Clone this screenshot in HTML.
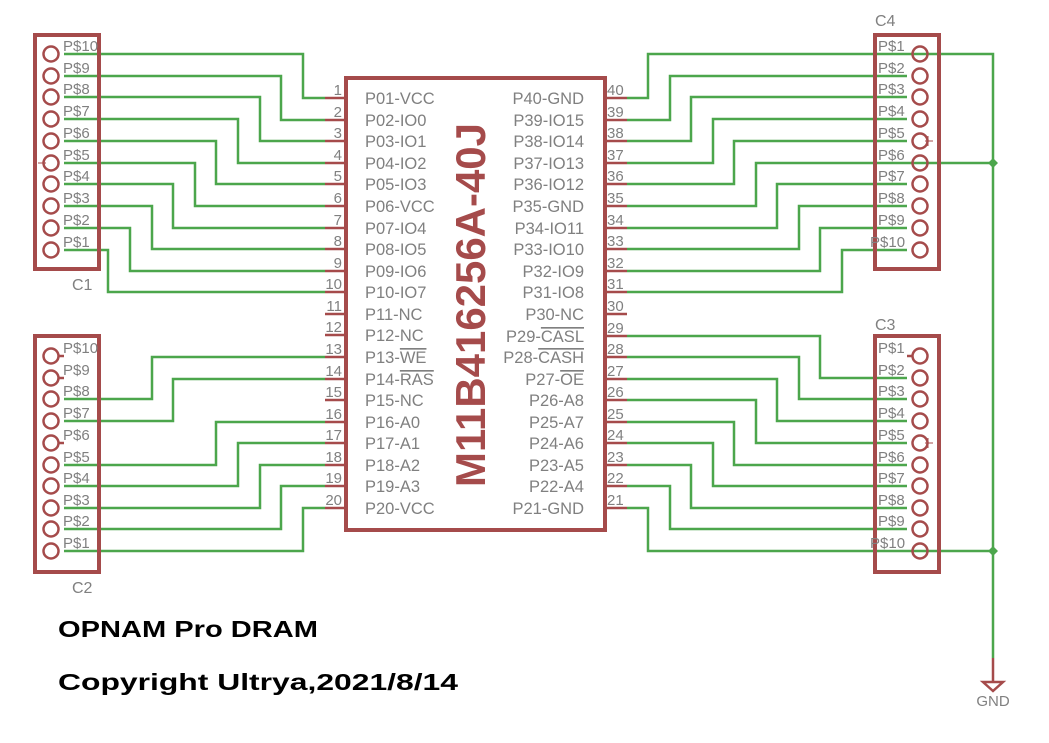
<!DOCTYPE html>
<html><head><meta charset="utf-8"><style>
html,body{margin:0;padding:0;background:#fff;}
svg{display:block;}
.g{fill:none;stroke:#4ca64c;stroke-width:2.5;}
.r{fill:none;stroke:#a54b4b;stroke-width:2.5;}
.b{fill:none;stroke:#a54b4b;stroke-width:4;}
.t{font-family:"Liberation Sans",sans-serif;font-size:15px;fill:#808080;}
.p{font-family:"Liberation Sans",sans-serif;font-size:16.5px;fill:#808080;}
.ov{text-decoration:overline;}
</style></head><body>
<svg width="1049" height="743" viewBox="0 0 1049 743" xmlns="http://www.w3.org/2000/svg">
<!-- Wires -->
<g class="g">
<polyline points="64,54 303,54 303,98 325,98"/>
<polyline points="64,76 281,76 281,120 325,120"/>
<polyline points="64,97 260,97 260,141 325,141"/>
<polyline points="64,119 238,119 238,163 325,163"/>
<polyline points="64,141 216,141 216,184 325,184"/>
<polyline points="64,163 195,163 195,206 325,206"/>
<polyline points="64,184 173,184 173,228 325,228"/>
<polyline points="64,206 152,206 152,249 325,249"/>
<polyline points="64,228 130,228 130,271 325,271"/>
<polyline points="64,250 108,250 108,292 325,292"/>

<polyline points="64,399 152,399 152,357 325,357"/>
<polyline points="64,421 173,421 173,379 325,379"/>
<polyline points="64,465 216,465 216,422 325,422"/>
<polyline points="64,486 238,486 238,443 325,443"/>
<polyline points="64,508 260,508 260,465 325,465"/>
<polyline points="64,529 281,529 281,486 325,486"/>
<polyline points="64,551 303,551 303,508 325,508"/>

<polyline points="627,98 648,98 648,54 907,54"/>
<polyline points="627,120 670,120 670,76 907,76"/>
<polyline points="627,141 691,141 691,97 907,97"/>
<polyline points="627,163 713,163 713,119 907,119"/>
<polyline points="627,184 734,184 734,141 907,141"/>
<polyline points="627,206 756,206 756,163 907,163"/>
<polyline points="627,228 777,228 777,184 907,184"/>
<polyline points="627,249 799,249 799,206 907,206"/>
<polyline points="627,271 820,271 820,228 907,228"/>
<polyline points="627,292 842,292 842,250 907,250"/>

<polyline points="627,336 820,336 820,378 907,378"/>
<polyline points="627,357 799,357 799,399 907,399"/>
<polyline points="627,379 777,379 777,421 907,421"/>
<polyline points="627,400 756,400 756,443 907,443"/>
<polyline points="627,422 734,422 734,465 907,465"/>
<polyline points="627,443 713,443 713,486 907,486"/>
<polyline points="627,465 691,465 691,508 907,508"/>
<polyline points="627,486 670,486 670,529 907,529"/>
<polyline points="627,508 648,508 648,551 907,551"/>

<path d="M907 54H993V658M907 163H993M907 551H993"/>
</g>
<path d="M993 158l5 5-5 5-5-5z M993 546l5 5-5 5-5-5z" fill="#4ca64c"/>

<!-- Chip -->
<rect x="346" y="78" width="259" height="452" class="b"/>
<g class="r">
<path d="M325 98H346M325 120H346M325 141H346M325 163H346M325 184H346M325 206H346M325 228H346M325 249H346M325 271H346M325 292H346M325 314H346M325 335H346M325 357H346M325 379H346M325 400H346M325 422H346M325 443H346M325 465H346M325 486H346M325 508H346"/>
<path d="M605 98H627M605 120H627M605 141H627M605 163H627M605 184H627M605 206H627M605 228H627M605 249H627M605 271H627M605 292H627M605 314H627M605 336H627M605 357H627M605 379H627M605 400H627M605 422H627M605 443H627M605 465H627M605 486H627M605 508H627"/>
</g>
<g class="t" text-anchor="end">
<text x="342" y="95">1</text><text x="342" y="117">2</text><text x="342" y="138">3</text><text x="342" y="160">4</text><text x="342" y="181">5</text><text x="342" y="203">6</text><text x="342" y="225">7</text><text x="342" y="246">8</text><text x="342" y="268">9</text><text x="342" y="289">10</text><text x="342" y="311">11</text><text x="342" y="332">12</text><text x="342" y="354">13</text><text x="342" y="376">14</text><text x="342" y="397">15</text><text x="342" y="419">16</text><text x="342" y="440">17</text><text x="342" y="462">18</text><text x="342" y="483">19</text><text x="342" y="505">20</text>
</g>
<g class="t">
<text x="607" y="95">40</text><text x="607" y="117">39</text><text x="607" y="138">38</text><text x="607" y="160">37</text><text x="607" y="181">36</text><text x="607" y="203">35</text><text x="607" y="225">34</text><text x="607" y="246">33</text><text x="607" y="268">32</text><text x="607" y="289">31</text><text x="607" y="311">30</text><text x="607" y="333">29</text><text x="607" y="354">28</text><text x="607" y="376">27</text><text x="607" y="397">26</text><text x="607" y="419">25</text><text x="607" y="440">24</text><text x="607" y="462">23</text><text x="607" y="483">22</text><text x="607" y="505">21</text>
</g>
<g class="p">
<text x="365" y="104">P01-VCC</text><text x="365" y="126">P02-IO0</text><text x="365" y="147">P03-IO1</text><text x="365" y="169">P04-IO2</text><text x="365" y="190">P05-IO3</text><text x="365" y="212">P06-VCC</text><text x="365" y="234">P07-IO4</text><text x="365" y="255">P08-IO5</text><text x="365" y="277">P09-IO6</text><text x="365" y="298">P10-IO7</text><text x="365" y="320">P11-NC</text><text x="365" y="341">P12-NC</text><text x="365" y="363">P13-<tspan class="ov">WE</tspan></text><text x="365" y="385">P14-<tspan class="ov">RAS</tspan></text><text x="365" y="406">P15-NC</text><text x="365" y="428">P16-A0</text><text x="365" y="449">P17-A1</text><text x="365" y="471">P18-A2</text><text x="365" y="492">P19-A3</text><text x="365" y="514">P20-VCC</text>
</g>
<g class="p" text-anchor="end">
<text x="584" y="104">P40-GND</text><text x="584" y="126">P39-IO15</text><text x="584" y="147">P38-IO14</text><text x="584" y="169">P37-IO13</text><text x="584" y="190">P36-IO12</text><text x="584" y="212">P35-GND</text><text x="584" y="234">P34-IO11</text><text x="584" y="255">P33-IO10</text><text x="584" y="277">P32-IO9</text><text x="584" y="298">P31-IO8</text><text x="584" y="320">P30-NC</text><text x="584" y="342">P29-<tspan class="ov">CASL</tspan></text><text x="584" y="363">P28-<tspan class="ov">CASH</tspan></text><text x="584" y="385">P27-<tspan class="ov">OE</tspan></text><text x="584" y="406">P26-A8</text><text x="584" y="428">P25-A7</text><text x="584" y="449">P24-A6</text><text x="584" y="471">P23-A5</text><text x="584" y="492">P22-A4</text><text x="584" y="514">P21-GND</text>
</g>
<text transform="translate(485,305) rotate(-90)" text-anchor="middle" textLength="364" lengthAdjust="spacingAndGlyphs" style="font-family:'Liberation Sans',sans-serif;font-size:42px;font-weight:bold;fill:#a54b4b">M11B416256A-40J</text>

<!-- Connector boxes -->
<rect x="35" y="35" width="64" height="234" class="b"/>
<rect x="35" y="336" width="64" height="236" class="b"/>
<rect x="875" y="35" width="64" height="234" class="b"/>
<rect x="875" y="336" width="64" height="236" class="b"/>
<g class="r" fill="#fff">
<circle cx="51" cy="54" r="7.5"/><circle cx="51" cy="76" r="7.5"/><circle cx="51" cy="97" r="7.5"/><circle cx="51" cy="119" r="7.5"/><circle cx="51" cy="141" r="7.5"/><circle cx="51" cy="163" r="7.5"/><circle cx="51" cy="184" r="7.5"/><circle cx="51" cy="206" r="7.5"/><circle cx="51" cy="228" r="7.5"/><circle cx="51" cy="250" r="7.5"/>
<circle cx="51" cy="356" r="7.5"/><circle cx="51" cy="378" r="7.5"/><circle cx="51" cy="399" r="7.5"/><circle cx="51" cy="421" r="7.5"/><circle cx="51" cy="443" r="7.5"/><circle cx="51" cy="465" r="7.5"/><circle cx="51" cy="486" r="7.5"/><circle cx="51" cy="508" r="7.5"/><circle cx="51" cy="529" r="7.5"/><circle cx="51" cy="551" r="7.5"/>
<circle cx="920" cy="54" r="7.5"/><circle cx="920" cy="76" r="7.5"/><circle cx="920" cy="97" r="7.5"/><circle cx="920" cy="119" r="7.5"/><circle cx="920" cy="141" r="7.5"/><circle cx="920" cy="163" r="7.5"/><circle cx="920" cy="184" r="7.5"/><circle cx="920" cy="206" r="7.5"/><circle cx="920" cy="228" r="7.5"/><circle cx="920" cy="250" r="7.5"/>
<circle cx="920" cy="356" r="7.5"/><circle cx="920" cy="378" r="7.5"/><circle cx="920" cy="399" r="7.5"/><circle cx="920" cy="421" r="7.5"/><circle cx="920" cy="443" r="7.5"/><circle cx="920" cy="465" r="7.5"/><circle cx="920" cy="486" r="7.5"/><circle cx="920" cy="508" r="7.5"/><circle cx="920" cy="529" r="7.5"/><circle cx="920" cy="551" r="7.5"/>
</g>
<path class="r" d="M58 356H64M58 378H64M58 443H64M907 356H913"/>
<path d="M38 163H46M925 141H933M928 136V146M925 443H933M928 438V448" stroke="#a54b4b" stroke-width="1"/>

<g class="t">
<text x="63" y="51">P$10</text><text x="63" y="73">P$9</text><text x="63" y="94">P$8</text><text x="63" y="116">P$7</text><text x="63" y="138">P$6</text><text x="63" y="160">P$5</text><text x="63" y="181">P$4</text><text x="63" y="203">P$3</text><text x="63" y="225">P$2</text><text x="63" y="247">P$1</text>
<text x="63" y="353">P$10</text><text x="63" y="375">P$9</text><text x="63" y="396">P$8</text><text x="63" y="418">P$7</text><text x="63" y="440">P$6</text><text x="63" y="462">P$5</text><text x="63" y="483">P$4</text><text x="63" y="505">P$3</text><text x="63" y="526">P$2</text><text x="63" y="548">P$1</text>
<text x="878" y="51">P$1</text><text x="878" y="73">P$2</text><text x="878" y="94">P$3</text><text x="878" y="116">P$4</text><text x="878" y="138">P$5</text><text x="878" y="160">P$6</text><text x="878" y="181">P$7</text><text x="878" y="203">P$8</text><text x="878" y="225">P$9</text><text x="870" y="247">P$10</text>
<text x="878" y="353">P$1</text><text x="878" y="375">P$2</text><text x="878" y="396">P$3</text><text x="878" y="418">P$4</text><text x="878" y="440">P$5</text><text x="878" y="462">P$6</text><text x="878" y="483">P$7</text><text x="878" y="505">P$8</text><text x="878" y="526">P$9</text><text x="870" y="548">P$10</text>
</g>
<g class="t" style="font-size:16px">
<text x="72" y="290">C1</text><text x="72" y="593">C2</text><text x="875" y="330">C3</text><text x="875" y="26">C4</text>
</g>

<path d="M993 658V681" class="r"/>
<path d="M983 682H1003L993 691Z" class="r"/>
<text x="993" y="706" text-anchor="middle" class="t" style="font-size:15px">GND</text>

<text x="58" y="637" textLength="260" lengthAdjust="spacingAndGlyphs" style="font-family:'Liberation Sans',sans-serif;font-weight:bold;font-size:23px;fill:#000">OPNAM Pro DRAM</text>
<text x="58" y="690" textLength="400" lengthAdjust="spacingAndGlyphs" style="font-family:'Liberation Sans',sans-serif;font-weight:bold;font-size:23px;fill:#000">Copyright Ultrya,2021/8/14</text>
</svg>
</body></html>
